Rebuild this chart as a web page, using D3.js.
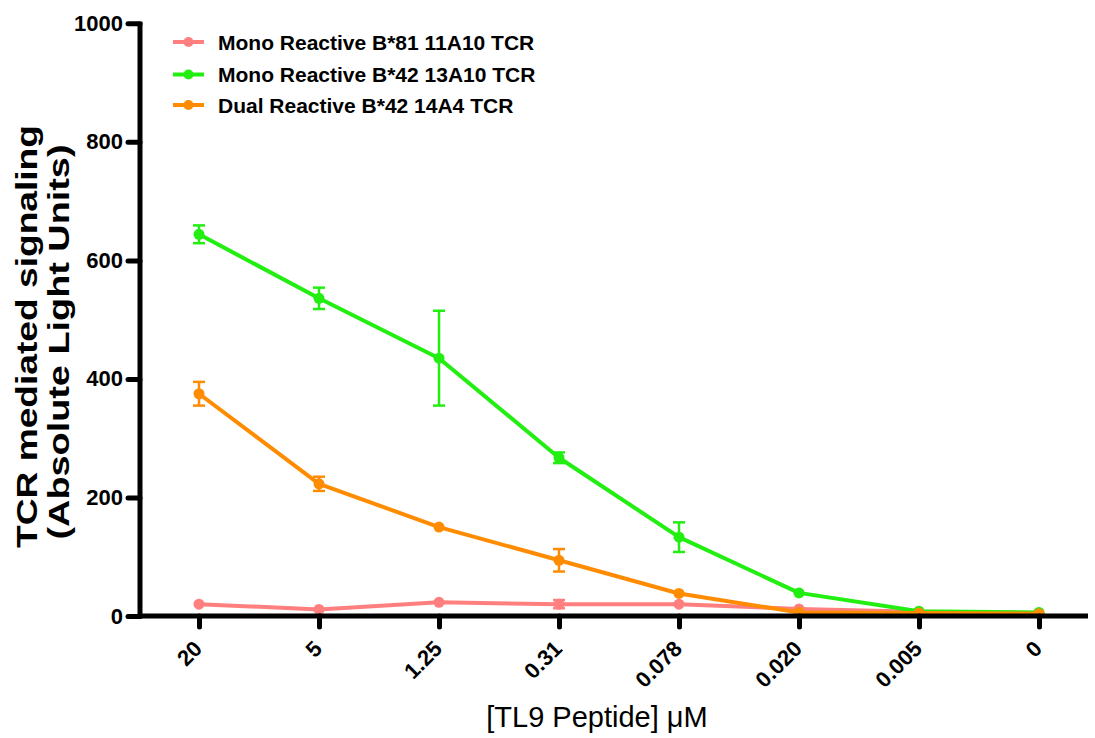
<!DOCTYPE html>
<html>
<head>
<meta charset="utf-8">
<script src="https://cdn.jsdelivr.net/npm/d3@7"></script>
<style>
  html, body { margin: 0; padding: 0; background: #fff; }
  svg { display: block; font-family: Arial, "Liberation Sans", sans-serif; }
</style>
</head>
<body>
<div id="chart"></div>
<script>
// concentrations of TL9 peptide (uM), as printed on the x axis
const doses = ["20", "5", "1.25", "0.31", "0.078", "0.020", "0.005", "0"];

const seriesNames = [
  "Mono Reactive B*81 11A10 TCR",
  "Mono Reactive B*42 13A10 TCR",
  "Dual Reactive B*42 14A4 TCR"
];
const seriesColors = ["#ff7f7f", "#22ee11", "#ff8c00"];

// mean signal and error (absolute light units)
const b81Mean = [20, 11, 23, 20, 20, 12, 7, 5];
const b81Err  = [0, 0, 0, 7, 0, 0, 0, 0];
const b42Mean = [644, 536, 435, 267, 133, 39, 8, 6];
const b42Err  = [15, 18, 80, 9, 25, 0, 0, 0];
const dualMean = [375, 223, 150, 94, 38, 6, 5, 4];
const dualErr  = [20, 12, 0, 19, 0, 0, 0, 0];

const yTicks = [0, 200, 400, 600, 800, 1000];

const means = [b81Mean, b42Mean, dualMean];
const errs = [b81Err, b42Err, dualErr];

const width = 1095, height = 738;
const axisX = 140, axisY = 616;
const fontFamily = "Arial, 'Liberation Sans', sans-serif";

const svg = d3.select("#chart").append("svg")
  .attr("width", width)
  .attr("height", height)
  .attr("viewBox", [0, 0, width, height]);

const x = d3.scalePoint()
  .domain(doses)
  .range([199, 1039]);

const y = d3.scaleLinear()
  .domain([0, 1000])
  .range([axisY, 23.3]);

// series: error bars, lines, markers
const line = d3.line()
  .x(d => x(d.dose))
  .y(d => y(d.v));

means.forEach((vals, s) => {
  const pts = vals.map((v, i) => ({ dose: doses[i], v: v, e: errs[s][i] }));
  const g = svg.append("g").attr("stroke", seriesColors[s]).attr("fill", seriesColors[s]);

  const eb = g.selectAll(".eb")
    .data(pts.filter(d => d.e > 0))
    .join("g")
    .attr("stroke-width", 2.5);
  eb.append("line")
    .attr("x1", d => x(d.dose)).attr("x2", d => x(d.dose))
    .attr("y1", d => y(d.v - d.e)).attr("y2", d => y(d.v + d.e));
  eb.append("line")
    .attr("x1", d => x(d.dose) - 6).attr("x2", d => x(d.dose) + 6)
    .attr("y1", d => y(d.v + d.e)).attr("y2", d => y(d.v + d.e));
  eb.append("line")
    .attr("x1", d => x(d.dose) - 6).attr("x2", d => x(d.dose) + 6)
    .attr("y1", d => y(d.v - d.e)).attr("y2", d => y(d.v - d.e));

  g.append("path")
    .datum(pts)
    .attr("fill", "none")
    .attr("stroke-width", 4)
    .attr("stroke-linejoin", "round")
    .attr("d", line);

  g.selectAll("circle")
    .data(pts)
    .join("circle")
    .attr("stroke", "none")
    .attr("cx", d => x(d.dose))
    .attr("cy", d => y(d.v))
    .attr("r", 5.5);
});

// x axis
const xAxis = svg.append("g")
  .attr("transform", `translate(0,${axisY})`)
  .call(d3.axisBottom(x).tickSize(11).tickSizeOuter(0))
  .call(g => g.select(".domain").remove())
  .attr("font-size", 22)
  .attr("font-family", fontFamily);
xAxis.selectAll(".tick line")
  .attr("stroke", "#000")
  .attr("stroke-width", 5)
  .attr("stroke-linecap", "round");
xAxis.selectAll(".tick text")
  .attr("x", null).attr("y", null).attr("dy", null)
  .attr("transform", "translate(4,34) rotate(-45)")
  .attr("text-anchor", "end")
  .attr("fill", "#000")
  .attr("font-weight", "bold");
svg.append("line")
  .attr("x1", axisX - 2).attr("x2", 1088)
  .attr("y1", axisY).attr("y2", axisY)
  .attr("stroke", "#000").attr("stroke-width", 5);

// y axis
const yAxis = svg.append("g")
  .attr("transform", `translate(${axisX},0)`)
  .call(d3.axisLeft(y).tickValues(yTicks).tickFormat(d3.format("d"))
    .tickSize(12).tickPadding(5).tickSizeOuter(0))
  .call(g => g.select(".domain").remove())
  .attr("font-size", 22)
  .attr("font-family", fontFamily);
yAxis.selectAll(".tick line")
  .attr("stroke", "#000")
  .attr("stroke-width", 5)
  .attr("stroke-linecap", "round");
yAxis.selectAll(".tick text")
  .attr("fill", "#000")
  .attr("font-weight", "bold");
svg.append("line")
  .attr("x1", axisX).attr("x2", axisX)
  .attr("y1", y(1000) - 1.5).attr("y2", axisY + 2.5)
  .attr("stroke", "#000").attr("stroke-width", 5);

// axis titles
svg.append("text")
  .attr("transform", "translate(37,336.5) rotate(-90)")
  .attr("text-anchor", "middle")
  .attr("font-size", 29)
  .attr("font-weight", "bold")
  .attr("textLength", 423)
  .attr("lengthAdjust", "spacingAndGlyphs")
  .text("TCR mediated signaling");
svg.append("text")
  .attr("transform", "translate(69,342) rotate(-90)")
  .attr("text-anchor", "middle")
  .attr("font-size", 29)
  .attr("font-weight", "bold")
  .attr("textLength", 395)
  .attr("lengthAdjust", "spacingAndGlyphs")
  .text("(Absolute Light Units)");
svg.append("text")
  .attr("x", 597)
  .attr("y", 727)
  .attr("text-anchor", "middle")
  .attr("font-size", 29)
  .text("[TL9 Peptide] \u03bcM");

// legend
const legend = svg.append("g")
  .selectAll("g")
  .data(seriesNames)
  .join("g")
  .attr("transform", (d, i) => `translate(0,${[42, 74.5, 105][i]})`);
legend.append("line")
  .attr("x1", 173).attr("x2", 204)
  .attr("stroke", (d, i) => seriesColors[i])
  .attr("stroke-width", 4);
legend.append("circle")
  .attr("cx", 188.5)
  .attr("r", 5)
  .attr("fill", (d, i) => seriesColors[i]);
legend.append("text")
  .attr("x", 218)
  .attr("dy", "0.36em")
  .attr("font-size", 21)
  .attr("font-weight", "bold")
  .text(d => d);
</script>
</body>
</html>
